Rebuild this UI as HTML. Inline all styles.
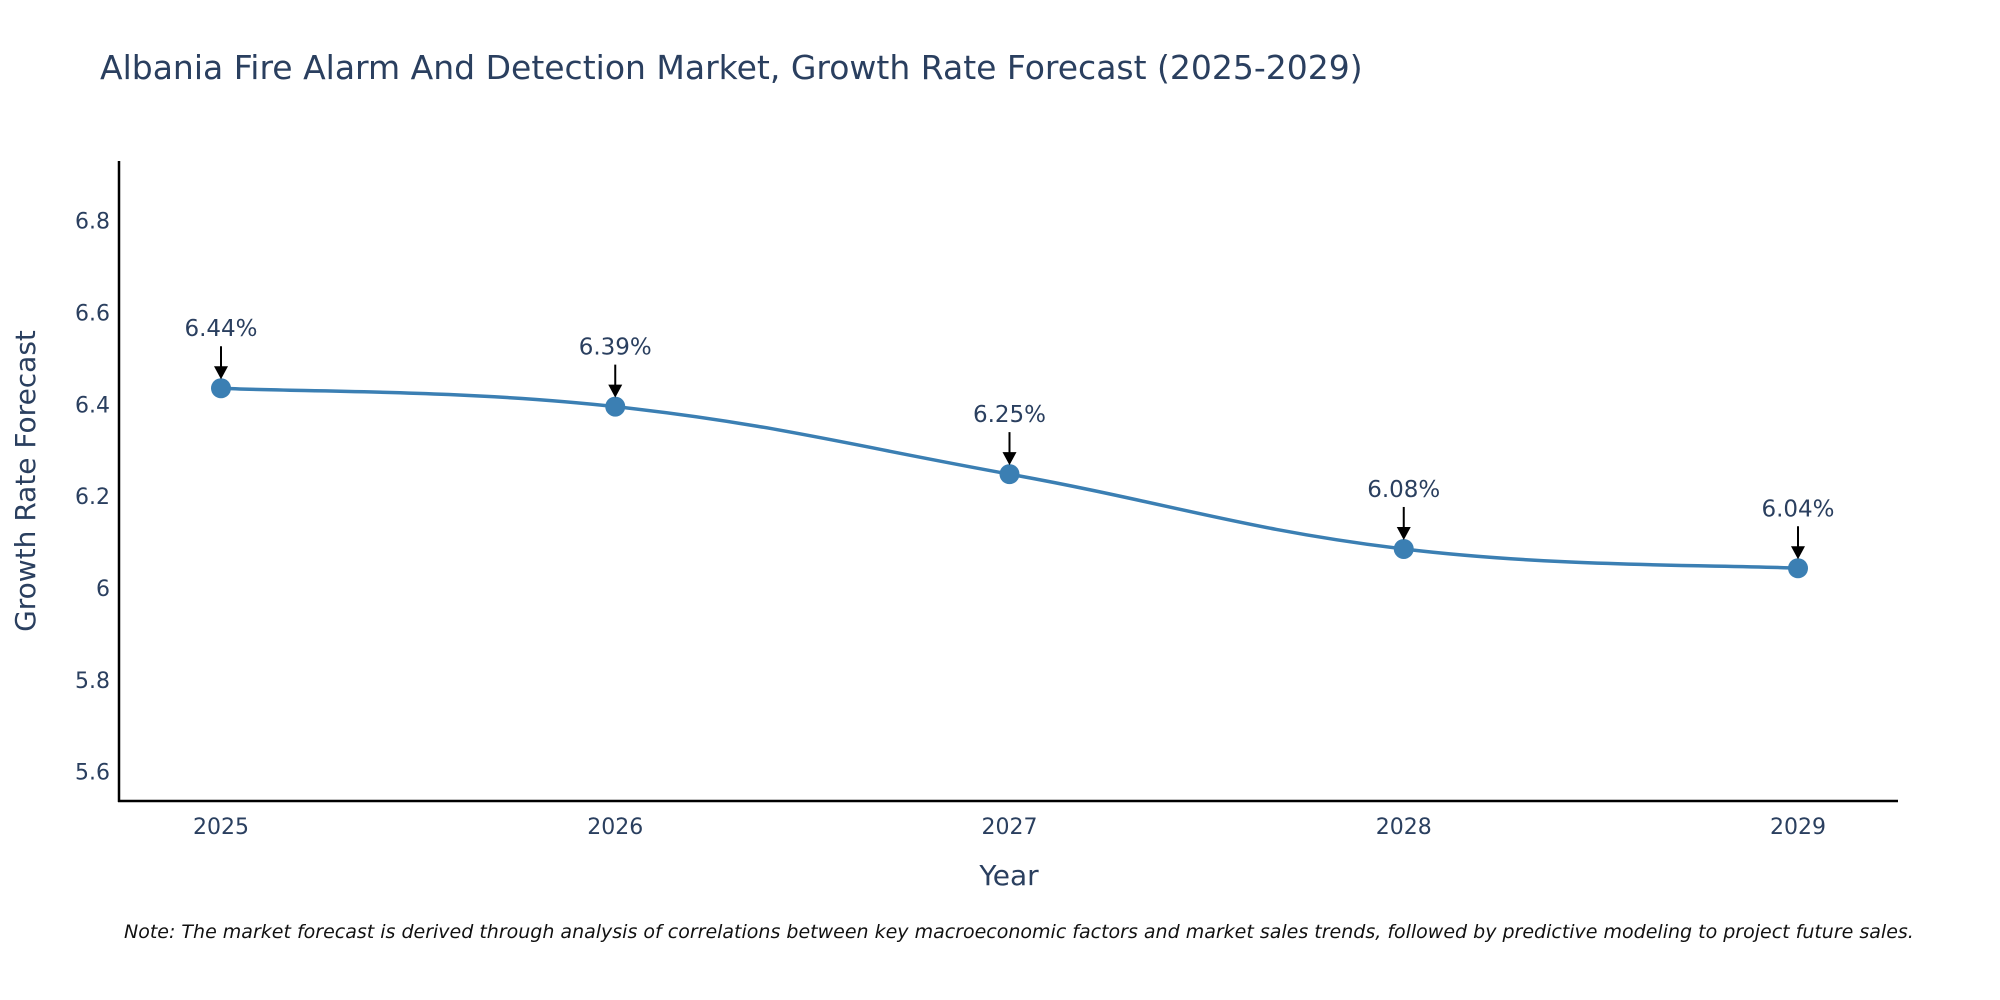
<!DOCTYPE html>
<html><head><meta charset="utf-8"><style>
html,body{margin:0;padding:0;background:#fff;}
svg{display:block;font-family:"DejaVu Sans","Liberation Sans",sans-serif;}
</style></head><body>
<svg id="chart" width="2000" height="1000" viewBox="0 0 2000 1000">
<text x="100" y="79" font-size="33" fill="#2a3f5f">Albania Fire Alarm And Detection Market, Growth Rate Forecast (2025-2029)</text>
<g id="yticks"></g>
<g id="xticks"></g>
<line x1="119" y1="161" x2="119" y2="802" stroke="#000" stroke-width="2.5"/>
<line x1="118" y1="801" x2="1898" y2="801" stroke="#000" stroke-width="2.5"/>
<text transform="translate(35,481) rotate(-90)" text-anchor="middle" font-size="28" fill="#2a3f5f">Growth Rate Forecast</text>
<text x="1009" y="885" text-anchor="middle" font-size="28" fill="#2a3f5f">Year</text>
<g id="series"></g>
<g id="annots"></g>
<text x="124" y="938" font-size="19" font-style="italic" fill="#111">Note: The market forecast is derived through analysis of correlations between key macroeconomic factors and market sales trends, followed by predictive modeling to project future sales.</text>
</svg>
<script>
const years = ["2025","2026","2027","2028","2029"];
const values = [6.435, 6.395, 6.248, 6.085, 6.043];
const labels = ["6.44%","6.39%","6.25%","6.08%","6.04%"];
const yTicks = [5.6, 5.8, 6, 6.2, 6.4, 6.6, 6.8];
const yTickLabels = ["5.6","5.8","6","6.2","6.4","6.6","6.8"];

const NS="http://www.w3.org/2000/svg";
function xs(i){return 221+i*(1798-221)/(years.length-1);}
function ys(v){return 588-(v-6)*459.2;}
function mk(tag,attrs,parent){const e=document.createElementNS(NS,tag);for(const k in attrs)e.setAttribute(k,attrs[k]);parent.appendChild(e);return e;}

const yg=document.getElementById('yticks');
yTicks.forEach((t,i)=>{
  const el=mk('text',{x:110,y:ys(t)+8,'text-anchor':'end','font-size':22,fill:'#2a3f5f'},yg);
  
  
  el.textContent=yTickLabels[i];
});
const xg=document.getElementById('xticks');
years.forEach((y,i)=>{
  const el=mk('text',{x:xs(i),y:834,'text-anchor':'middle','font-size':22,fill:'#2a3f5f'},xg);
  
  
  el.textContent=y;
});

const sg=document.getElementById('series');
const pts=values.map((v,i)=>[xs(i),ys(v)]);
let d=`M${pts[0][0]},${pts[0][1]}`;
for(let i=0;i<pts.length-1;i++){
  const p0=pts[Math.max(0,i-1)],p1=pts[i],p2=pts[i+1],p3=pts[Math.min(pts.length-1,i+2)];
  const s=0.2;
  const c1=[p1[0]+(p2[0]-p0[0])*s,p1[1]+(p2[1]-p0[1])*s];
  const c2=[p2[0]-(p3[0]-p1[0])*s,p2[1]-(p3[1]-p1[1])*s];
  d+=` C${c1[0]},${c1[1]} ${c2[0]},${c2[1]} ${p2[0]},${p2[1]}`;
}
const line=mk('path',{d:d,fill:'none',stroke:'#3b7fb3','stroke-width':3.5},sg);


pts.forEach((p,i)=>{
  const c=mk('circle',{cx:p[0],cy:p[1],r:10,fill:'#3b7fb3'},sg);
  
  
});

const ag=document.getElementById('annots');
pts.forEach((p,i)=>{
  const g=mk('g',{},ag);
  
  
  mk('line',{x1:p[0],y1:p[1]-42,x2:p[0],y2:p[1]-20,stroke:'#000','stroke-width':2},g);
  mk('path',{d:`M${p[0]-7},${p[1]-22} L${p[0]+7},${p[1]-22} L${p[0]},${p[1]-9} Z`,fill:'#000'},g);
  const t=mk('text',{x:p[0],y:p[1]-52,'text-anchor':'middle','font-size':23,fill:'#2a3f5f'},g);
  t.textContent=labels[i];
});
</script>
</body></html>
